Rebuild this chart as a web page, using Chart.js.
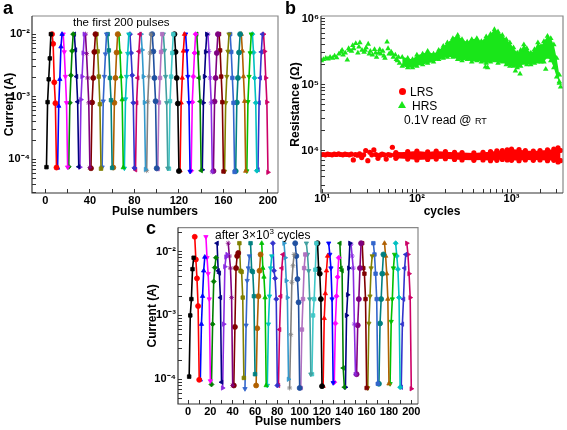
<!DOCTYPE html>
<html>
<head>
<meta charset="utf-8">
<script src="https://cdn.jsdelivr.net/npm/chart.js@4.4.1/dist/chart.umd.min.js"></script>
<style>
  body { margin: 0; background: #fff; }
  #fig { position: relative; width: 567px; height: 430px; overflow: hidden; font-family: "Liberation Sans", Arial, sans-serif; }
  #fig canvas { position: absolute; }
  .t { position: absolute; white-space: nowrap; color: #000; line-height: 1; }
  .panel { font-weight: bold; font-size: 18px; }
</style>
</head>
<body>
<div id="fig">
  <canvas id="chartA" width="285" height="222" style="left:0;top:0"></canvas>
  <canvas id="chartB" width="284" height="222" style="left:283px;top:0"></canvas>
  <canvas id="chartC" width="290" height="215" style="left:140px;top:215px"></canvas>

  <div class="t panel" style="left:3px;top:-1px">a</div>
  <div class="t" style="left:73px;top:17px;font-size:11.5px">the first 200 pulses</div>

  <div class="t panel" style="left:285px;top:-1px">b</div>
  <div class="t" style="left:399px;top:88px;width:7px;height:7px;border-radius:50%;background:#f00"></div>
  <div class="t" style="left:410px;top:86px;font-size:12px">LRS</div>
  <div class="t" style="left:398px;top:101px;width:0;height:0;border-left:4px solid transparent;border-right:4px solid transparent;border-bottom:7px solid #19e619"></div>
  <div class="t" style="left:412px;top:100px;font-size:12px">HRS</div>
  <div class="t" style="left:404px;top:114px;font-size:12px">0.1V read @ <span style="font-size:9px">RT</span></div>

  <div class="t panel" style="left:146px;top:219px">c</div>
  <div class="t" style="left:215px;top:228px;font-size:12px">after 3&times;10<sup style="font-size:8px">3</sup> cycles</div>
</div>

<script>
// pulse number 1..200 (x categories of panels a and c)
var pulses = [];
for (var p = 1; p <= 200; p++) pulses.push(p);

// panel a: current (A) per pulse, each row = 5 set pulses then 5 reset pulses
var currentFirst = [
  7.5e-5, 8.2e-4, 1.9e-3, 4.1e-3, 1.0e-2,   1.0e-2, 7.0e-3, 1.7e-3, 7.9e-4, 7.4e-5,
  7.3e-5, 7.1e-4, 1.9e-3, 6.3e-3, 1.0e-2,   1.0e-2, 5.2e-3, 2.1e-3, 8.0e-4, 7.5e-5,
  7.6e-5, 8.0e-4, 2.2e-3, 5.4e-3, 1.0e-2,   1.0e-2, 5.6e-3, 2.1e-3, 8.3e-4, 7.6e-5,
  7.5e-5, 9.0e-4, 2.1e-3, 5.0e-3, 1.0e-2,   1.0e-2, 4.9e-3, 2.0e-3, 8.0e-4, 7.4e-5,
  7.2e-5, 8.1e-4, 2.0e-3, 5.2e-3, 1.0e-2,   1.0e-2, 5.3e-3, 2.1e-3, 7.6e-4, 7.1e-5,
  7.5e-5, 8.5e-4, 2.1e-3, 4.8e-3, 1.0e-2,   1.0e-2, 5.5e-3, 2.0e-3, 8.8e-4, 7.3e-5,
  7.4e-5, 8.0e-4, 2.0e-3, 5.1e-3, 1.0e-2,   1.0e-2, 5.2e-3, 2.1e-3, 9.0e-4, 7.4e-5,
  7.2e-5, 9.2e-4, 2.1e-3, 4.9e-3, 1.0e-2,   1.0e-2, 5.0e-3, 2.2e-3, 8.0e-4, 7.3e-5,
  6.8e-5, 8.0e-4, 2.0e-3, 5.3e-3, 1.0e-2,   1.0e-2, 5.6e-3, 2.1e-3, 8.1e-4, 6.9e-5,
  6.6e-5, 8.3e-4, 2.1e-3, 5.0e-3, 1.0e-2,   1.0e-2, 5.3e-3, 2.0e-3, 8.5e-4, 7.2e-5,
  7.0e-5, 8.1e-4, 2.0e-3, 5.2e-3, 1.0e-2,   1.0e-2, 5.5e-3, 2.1e-3, 8.0e-4, 7.2e-5,
  7.1e-5, 8.5e-4, 2.1e-3, 5.0e-3, 1.0e-2,   1.0e-2, 5.2e-3, 2.0e-3, 7.8e-4, 6.5e-5,
  6.6e-5, 8.0e-4, 2.0e-3, 5.4e-3, 1.0e-2,   1.0e-2, 5.4e-3, 2.1e-3, 8.0e-4, 6.4e-5,
  6.6e-5, 8.2e-4, 2.1e-3, 5.0e-3, 1.0e-2,   1.0e-2, 5.0e-3, 2.0e-3, 8.4e-4, 6.6e-5,
  6.8e-5, 8.0e-4, 2.1e-3, 5.2e-3, 1.0e-2,   1.0e-2, 5.3e-3, 2.0e-3, 8.0e-4, 6.3e-5,
  6.5e-5, 8.4e-4, 2.0e-3, 5.0e-3, 1.0e-2,   1.0e-2, 5.5e-3, 2.1e-3, 8.2e-4, 6.4e-5,
  6.4e-5, 8.0e-4, 2.1e-3, 5.3e-3, 1.0e-2,   1.0e-2, 5.2e-3, 2.0e-3, 8.0e-4, 6.3e-5,
  6.5e-5, 8.1e-4, 2.0e-3, 5.1e-3, 1.0e-2,   1.0e-2, 5.4e-3, 2.1e-3, 8.5e-4, 6.5e-5,
  6.5e-5, 8.3e-4, 2.1e-3, 5.0e-3, 1.0e-2,   1.0e-2, 5.1e-3, 2.0e-3, 8.0e-4, 6.6e-5,
  6.8e-5, 8.0e-4, 2.0e-3, 5.2e-3, 1.0e-2,   1.0e-2, 5.3e-3, 2.0e-3, 8.2e-4, 6.2e-5
];

// panel c: current (A) per pulse after 3x10^3 cycles
var currentAfter = [
  1.1e-4, 1.0e-3, 1.8e-3, 5.3e-3, 8.0e-3,   1.7e-2, 7.5e-3, 3.8e-3, 1.4e-3, 9.8e-5,
  9.8e-5, 7.3e-4, 2.0e-3, 5.0e-3, 8.2e-3,   1.7e-2, 8.0e-3, 4.5e-3, 1.8e-3, 9.4e-5,
  8.3e-5, 7.3e-4, 3.4e-3, 5.6e-3, 8.0e-3,   1.35e-2, 5.0e-3, 4.6e-3, 1.9e-3, 9.0e-5,
  7.3e-5, 7.3e-4, 5.8e-3, 8.2e-3, 9.0e-3,   1.35e-2, 8.5e-3, 5.5e-3, 1.9e-3, 8.0e-5,
  8.0e-5, 6.6e-4, 5.5e-3, 8.5e-3, 9.5e-3,   1.35e-2, 5.0e-3, 4.8e-3, 1.9e-3, 1.05e-4,
  7.1e-5, 7.0e-4, 3.5e-3, 5.5e-3, 8.5e-3,   1.35e-2, 5.0e-3, 4.8e-3, 2.0e-3, 1.2e-4,
  8.0e-5, 6.3e-4, 2.0e-3, 5.0e-3, 9.0e-3,   1.35e-2, 5.5e-3, 4.0e-3, 1.9e-3, 8.0e-5,
  8.0e-5, 7.3e-4, 2.0e-3, 5.5e-3, 8.5e-3,   1.35e-2, 5.0e-3, 3.8e-3, 1.8e-3, 8.0e-5,
  8.0e-5, 6.0e-4, 2.0e-3, 5.5e-3, 9.0e-3,   1.35e-2, 8.0e-3, 3.5e-3, 1.9e-3, 1.0e-4,
  7.3e-5, 5.0e-4, 3.3e-3, 6.0e-3, 9.0e-3,   1.35e-2, 8.5e-3, 3.7e-3, 1.6e-3, 7.3e-5,
  7.3e-5, 6.0e-4, 1.8e-3, 5.5e-3, 9.0e-3,   1.35e-2, 9.0e-3, 5.0e-3, 1.8e-3, 1.2e-4,
  1.2e-4, 1.0e-3, 1.8e-3, 5.2e-3, 1.35e-2,  1.35e-2, 5.3e-3, 4.5e-3, 1.8e-3, 7.8e-5,
  7.8e-5, 9.0e-4, 2.2e-3, 5.0e-3, 8.5e-3,   1.35e-2, 9.0e-3, 5.5e-3, 1.8e-3, 8.8e-5,
  9.0e-5, 7.5e-4, 2.0e-3, 4.0e-3, 8.0e-3,   1.35e-2, 5.5e-3, 5.0e-3, 1.5e-4, 7.5e-5,
  7.5e-5, 1.0e-3, 2.1e-3, 5.5e-3, 1.35e-2,  1.3e-2, 8.5e-3, 5.5e-3, 7.3e-4, 1.2e-4,
  1.2e-4, 7.0e-4, 1.8e-3, 5.5e-3, 1.35e-2,  1.35e-2, 5.5e-3, 4.5e-3, 1.8e-3, 7.3e-5,
  7.3e-5, 7.5e-4, 2.0e-3, 5.5e-3, 8.5e-3,   1.35e-2, 9.0e-3, 4.5e-3, 1.8e-3, 8.5e-5,
  8.5e-5, 7.5e-4, 1.8e-3, 4.5e-3, 9.0e-3,   1.35e-2, 8.5e-3, 4.5e-3, 1.8e-3, 8.5e-5,
  8.5e-5, 8.0e-4, 1.8e-3, 5.5e-3, 9.0e-3,   1.35e-2, 8.5e-3, 5.3e-3, 1.9e-3, 7.5e-5,
  7.5e-5, 7.3e-4, 1.8e-3, 5.5e-3, 9.0e-3,   1.35e-2, 9.0e-3, 4.5e-3, 1.9e-3, 7.1e-5
];

// panel b: early cycles, single scattered points (cycle, ohm)
var hrsEarlyCycles = [9.8, 10.3, 10.9, 11.5, 12.1, 12.8, 13.5, 14.2, 15, 15.8, 16.2, 16.6, 17.5, 18.4, 19, 19.4, 20.4, 21, 21.5,
  22.6, 23.8, 24.4, 25, 26.3, 27.7, 28.4, 29.1, 30.6, 31.4, 32.2, 33.9, 35.7, 36.6, 37.5, 39.5, 40.5, 41.5, 43.7, 44.8, 46,
  48.4, 49.6, 50.9, 53.5, 54.9, 56.3, 59.2, 60.7, 62.3, 64, 65.5];
var hrsEarlyOhm = [2.3e5, 2.4e5, 2.5e5, 2.45e5, 2.6e5, 2.5e5, 2.7e5, 2.55e5, 2.9e5, 3.1e5, 3.3e5, 2.8e5, 3.0e5, 2.35e5, 3.5e5, 3.3e5, 3.2e5, 3.9e5, 3.5e5,
  4.2e5, 3.0e5, 3.7e5, 4.3e5, 3.3e5, 3.1e5, 3.3e5, 3.6e5, 4.1e5, 2.9e5, 3.2e5, 2.8e5, 3.4e5, 3.0e5, 2.6e5, 3.0e5, 3.4e5, 2.9e5, 3.2e5, 2.7e5, 2.5e5,
  4.4e5, 3.5e5, 2.9e5, 3.1e5, 2.9e5, 2.6e5, 2.8e5, 2.4e5, 2.3e5, 2.6e5, 2.1e5];
var lrsEarlyCycles = [9.6, 10.2, 10.8, 11.4, 12, 12.7, 13.4, 14.1, 14.9, 15.7, 16.5, 17.4, 18.3, 19.3, 20.3, 21.3, 22.4, 23.6, 24.8,
  26.1, 27.4, 28.8, 30.3, 31.8, 33.4, 35.1, 36.9, 38.8, 40.8, 42.9, 45.1, 47.4, 49.8, 52.4, 55.1, 57.9, 60.9, 64, 67.3];
var lrsEarlyOhm = [8.6e3, 8.7e3, 8.6e3, 8.8e3, 8.7e3, 8.6e3, 8.8e3, 8.7e3, 8.9e3, 8.7e3, 8.6e3, 8.8e3, 8.7e3, 8.6e3, 8.8e3, 7.2e3, 8.7e3, 8.5e3, 8.9e3,
  7.8e3, 8.6e3, 1.0e4, 7.0e3, 9.4e3, 8.6e3, 1.02e4, 8.7e3, 7.6e3, 8.5e3, 8.8e3, 8.6e3, 7.4e3, 8.7e3, 8.5e3, 1.12e4, 8.6e3, 8.0e3, 8.7e3, 8.5e3];

// panel b: dense band of later cycles, upper and lower edge of the cloud
var hrsBandCycles = [70, 80, 90, 100, 115, 130, 150, 170, 190, 210, 240, 270, 300, 340, 380, 430, 480, 540, 600, 660,
  720, 800, 880, 960, 1050, 1150, 1250, 1350, 1450, 1600, 1750, 1900, 2050, 2200, 2400, 2600, 2800, 3000, 3200];
var hrsBandHigh = [2.6e5, 2.5e5, 2.4e5, 2.8e5, 2.9e5, 3.2e5, 2.9e5, 3.3e5, 3.8e5, 4.3e5, 5.0e5, 5.6e5, 4.8e5, 4.4e5, 4.8e5, 5.0e5, 4.5e5, 5.3e5, 5.8e5, 6.8e5,
  6.3e5, 5.6e5, 4.8e5, 4.3e5, 3.6e5, 3.0e5, 3.3e5, 4.0e5, 3.5e5, 3.0e5, 3.4e5, 4.3e5, 3.8e5, 4.5e5, 5.4e5, 5.0e5, 4.0e5, 2.5e5, 1.4e5];
var hrsBandLow = [1.9e5, 1.8e5, 1.8e5, 1.9e5, 2.0e5, 2.1e5, 2.2e5, 2.4e5, 2.5e5, 2.6e5, 2.6e5, 2.4e5, 2.3e5, 2.4e5, 2.2e5, 2.3e5, 2.2e5, 2.1e5, 2.2e5, 2.3e5,
  2.1e5, 2.2e5, 2.0e5, 1.9e5, 1.9e5, 1.8e5, 1.9e5, 2.1e5, 2.0e5, 2.0e5, 2.1e5, 2.2e5, 2.2e5, 2.2e5, 2.6e5, 2.3e5, 1.8e5, 1.3e5, 1.1e5];
var hrsOutCycles = [530, 560, 1100, 1230, 2300, 3200, 3300];
var hrsOutOhm = [1.85e5, 1.8e5, 1.6e5, 1.45e5, 1.7e5, 1.05e5, 9.2e4];

var lrsBandCycles = [60, 80, 100, 130, 160, 200, 250, 300, 400, 500, 600, 700, 800, 900, 1000, 1200, 1400, 1700, 2000, 2400, 2800, 3100, 3300];
var lrsBandHigh = [9.3e3, 9.6e3, 9.8e3, 9.5e3, 9.8e3, 9.6e3, 9.4e3, 9.3e3, 9.2e3, 9.4e3, 9.6e3, 9.9e3, 1.0e4, 1.02e4, 1.05e4, 1.03e4, 1.0e4, 9.8e3, 1.0e4, 1.02e4, 1.05e4, 1.1e4, 1.0e4];
var lrsBandLow = [7.6e3, 7.4e3, 7.2e3, 7.3e3, 7.4e3, 7.5e3, 7.3e3, 7.2e3, 7.1e3, 7.2e3, 7.0e3, 7.1e3, 7.3e3, 7.2e3, 7.1e3, 7.0e3, 7.2e3, 7.1e3, 7.2e3, 7.0e3, 7.1e3, 6.7e3, 7.0e3];

// styling
var palette = ['#000000', '#ff0000', '#0000ff', '#ff00ff', '#008000', '#000080', '#8a2be2', '#800080', '#800000', '#808000',
  '#3366cc', '#008080', '#b06000', '#00c000', '#00c0c0', '#3333cc', '#cc0066', '#3399cc', '#808080', '#2050a0',
  '#b070c0', '#40a0a0', '#40c8c8'];
var shapes = ['rect', 'circle', 'triangle', 'triangle', 'rectRot', 'triangle', 'triangle', 'star', 'circle', 'rect', 'triangle'];
var turns = [0, 0, 0, 180, 0, 270, 90, 0, 0, 0, 180];
var GREEN = '#19e619', RED = '#ff0000';

Chart.defaults.font.family = '"Liberation Sans", Arial, sans-serif';
Chart.defaults.color = '#000';
Chart.defaults.animation = false;

var sup = {'-': '\u207b', '0': '\u2070', '1': '\u00b9', '2': '\u00b2', '3': '\u00b3', '4': '\u2074', '5': '\u2075', '6': '\u2076'};
function powLabel(v) {
  var e = Math.log10(v), r = Math.round(e);
  if (Math.abs(e - r) > 1e-6) return '';
  return '10' + String(r).split('').map(function (ch) { return sup[ch]; }).join('');
}
// 1..9 x 10^n ticks so the minor marks fall on the usual places
function logTicks(scale) {
  var t = [];
  var e0 = Math.floor(Math.log10(scale.min)), e1 = Math.ceil(Math.log10(scale.max));
  for (var e = e0; e <= e1; e++) {
    for (var m = 1; m < 10; m++) {
      var v = m * Math.pow(10, e);
      if (v >= scale.min && v <= scale.max) t.push({value: v});
    }
  }
  scale.ticks = t;
}
function fixSize(prop, v) { return function (s) { s[prop] = v; }; }

var frame = {
  id: 'frame',
  afterDatasetsDraw: function (chart) {
    var a = chart.chartArea, ctx = chart.ctx;
    ctx.save();
    ctx.lineWidth = 1.2;
    ctx.strokeStyle = '#888';
    ctx.beginPath();
    ctx.moveTo(a.left, a.top); ctx.lineTo(a.right, a.top); ctx.lineTo(a.right, a.bottom);
    ctx.stroke();
    ctx.strokeStyle = '#333';
    ctx.beginPath();
    ctx.moveTo(a.left, a.top); ctx.lineTo(a.left, a.bottom); ctx.lineTo(a.right, a.bottom);
    ctx.stroke();
    ctx.restore();
  }
};

var tickFont = {size: 11, weight: 'bold'};
var titleFont = {size: 12, weight: 'bold'};
var inGrid = {drawOnChartArea: false, tickLength: -4, color: '#333'};

function linX(min, max, step, every, h, pad, titlePad) {
  return {
    type: 'linear', min: min, max: max, afterFit: fixSize('height', h), border: {display: false}, grid: inGrid,
    ticks: {stepSize: step, includeBounds: false, autoSkip: false, maxRotation: 0, padding: pad, font: tickFont,
      callback: function (v) { return v % every === 0 ? v : ''; }},
    title: {display: true, text: 'Pulse numbers', font: titleFont, padding: titlePad}
  };
}
function logAxis(min, max, size, text, horizontal, pad, titlePad) {
  return {
    type: 'logarithmic', min: min, max: max, afterFit: fixSize(horizontal ? 'height' : 'width', size),
    afterBuildTicks: logTicks, border: {display: false}, grid: inGrid,
    ticks: {autoSkip: false, maxRotation: 0, padding: pad, font: tickFont, callback: powLabel},
    title: {display: true, text: text, font: titleFont, padding: titlePad}
  };
}

function pulseSets(values) {
  var sets = [];
  for (var s = 0; s < values.length / 5; s++) {
    var pts = [];
    for (var j = 0; j < 5; j++) pts.push({x: pulses[s * 5 + j], y: values[s * 5 + j]});
    var c = palette[s % palette.length];
    sets.push({
      data: pts, borderColor: c, backgroundColor: c, borderWidth: 1.6,
      pointStyle: shapes[s % shapes.length], pointRotation: turns[s % turns.length],
      pointRadius: 2.5, pointBorderWidth: 0.8, tension: 0
    });
  }
  return sets;
}
function pairs(xs, ys) {
  return xs.map(function (x, i) { return {x: x, y: ys[i]}; });
}

// panel a
new Chart(document.getElementById('chartA'), {
  type: 'line',
  data: {datasets: pulseSets(currentFirst)},
  options: {
    responsive: false, events: [],
    layout: {padding: {left: 0, top: 16, right: 7, bottom: 0}},
    plugins: {legend: {display: false}, tooltip: {enabled: false}},
    scales: {
      x: linX(-12, 209, 20, 40, 29, 5, {top: 0, bottom: 3}),
      y: logAxis(2.9e-5, 1.95e-2, 32, 'Current (A)', false, 6, {top: 2, bottom: 0})
    }
  },
  plugins: [frame]
});

// panel b
var scatterOpts = {showLine: false, borderWidth: 0, pointBorderWidth: 0};
new Chart(document.getElementById('chartB'), {
  type: 'line',
  data: {
    datasets: [
      Object.assign({label: 'LRS band high', data: pairs(lrsBandCycles, lrsBandHigh), fill: '+1',
        borderColor: 'rgba(0,0,0,0)', backgroundColor: RED, pointBackgroundColor: RED, borderWidth: 0,
        pointStyle: 'circle', pointRadius: 2.6, pointBorderWidth: 0}),
      Object.assign({label: 'LRS band low', data: pairs(lrsBandCycles, lrsBandLow), fill: false,
        borderColor: 'rgba(0,0,0,0)', backgroundColor: RED, borderWidth: 0,
        pointStyle: 'circle', pointRadius: 2.6, pointBorderWidth: 0}),
      Object.assign({label: 'LRS', data: pairs(lrsEarlyCycles, lrsEarlyOhm), backgroundColor: RED,
        pointStyle: 'circle', pointRadius: 2.6}, scatterOpts),
      Object.assign({label: 'HRS band high', data: pairs(hrsBandCycles, hrsBandHigh), fill: '+1',
        borderColor: 'rgba(0,0,0,0)', backgroundColor: GREEN, pointBackgroundColor: GREEN, borderWidth: 0,
        pointStyle: 'triangle', pointRadius: 3.2, pointBorderWidth: 0}),
      Object.assign({label: 'HRS band low', data: pairs(hrsBandCycles, hrsBandLow), fill: false,
        borderColor: 'rgba(0,0,0,0)', backgroundColor: GREEN, borderWidth: 0,
        pointStyle: 'triangle', pointRadius: 3.2, pointBorderWidth: 0}),
      Object.assign({label: 'HRS', data: pairs(hrsEarlyCycles, hrsEarlyOhm), backgroundColor: GREEN,
        pointStyle: 'triangle', pointRadius: 3.2}, scatterOpts),
      Object.assign({label: 'HRS outliers', data: pairs(hrsOutCycles, hrsOutOhm), backgroundColor: GREEN,
        pointStyle: 'triangle', pointRadius: 3.2}, scatterOpts)
    ]
  },
  options: {
    responsive: false, events: [],
    layout: {padding: {left: 0, top: 16, right: 2, bottom: 0}},
    plugins: {legend: {display: false}, tooltip: {enabled: false}},
    scales: {
      x: logAxis(9.7, 3500, 29, 'cycles', true, 3, {top: 0, bottom: 3}),
      y: logAxis(2.27e3, 1.09e6, 38, 'Resistance (\u03a9)', false, 6, {top: 5, bottom: 0})
    }
  },
  plugins: [frame]
});

// panel c
new Chart(document.getElementById('chartC'), {
  type: 'line',
  data: {datasets: pulseSets(currentAfter)},
  options: {
    responsive: false, events: [],
    layout: {padding: {left: 0, top: 12, right: 12, bottom: 0}},
    plugins: {legend: {display: false}, tooltip: {enabled: false}},
    scales: {
      x: linX(-9, 206, 10, 20, 26, 5, {top: 0, bottom: 1}),
      y: logAxis(4.1e-5, 2.37e-2, 38, 'Current (A)', false, 6, {top: 5, bottom: 0})
    }
  },
  plugins: [frame]
});
</script>
</body>
</html>
